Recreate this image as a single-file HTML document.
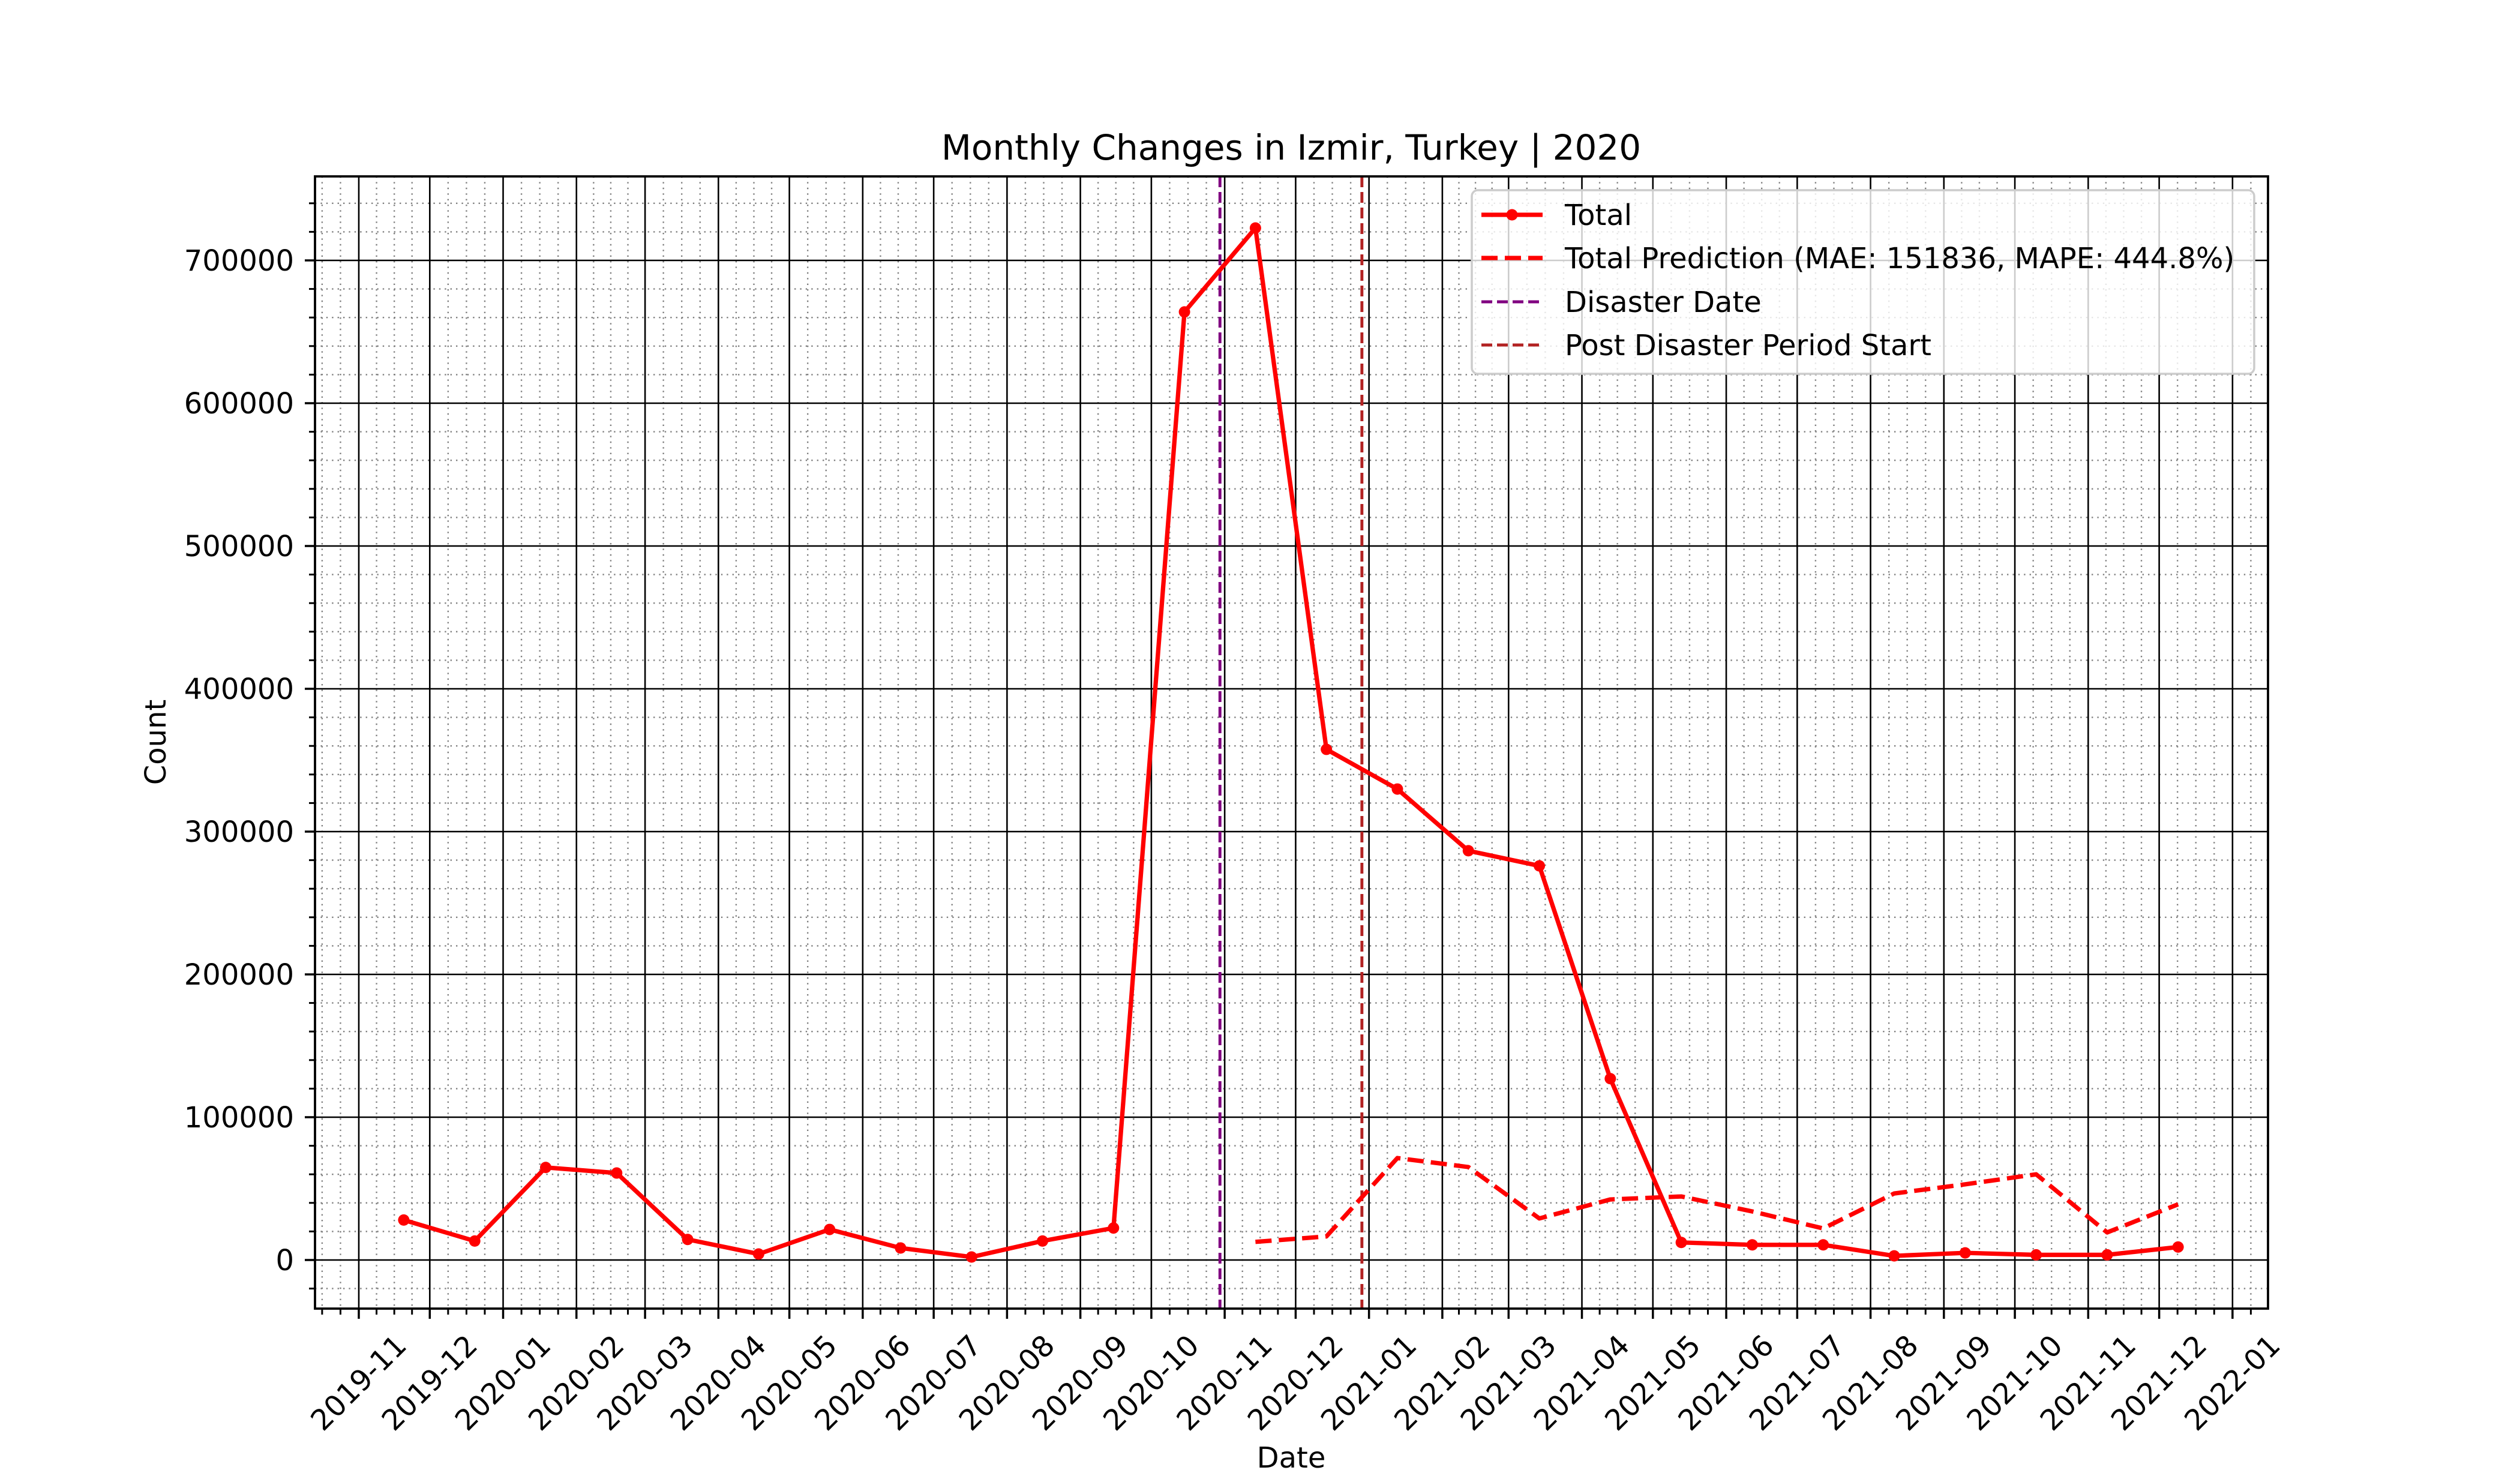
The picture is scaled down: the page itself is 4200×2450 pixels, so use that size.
<!DOCTYPE html>
<html><head><meta charset="utf-8">
<style>
html,body{margin:0;padding:0;background:#fff;}
svg{display:block;font-family:"DejaVu Sans","Liberation Sans",sans-serif;}
</style></head>
<body>
<svg id="chart" width="4200" height="2450" viewBox="0 0 4200 2450" xmlns="http://www.w3.org/2000/svg">
<rect x="0" y="0" width="4200" height="2450" fill="#fff"/>
<g id="grid-minor"></g>
<g id="grid-major"></g>
<g id="vlines"></g>
<g id="series"></g>
<g id="axes"></g>
<g id="legend"></g>
<text x="2152" y="266" font-size="58" text-anchor="middle">Monthly Changes in Izmir, Turkey | 2020</text>
<text x="2152" y="2446" font-size="48" text-anchor="middle">Date</text>
<text x="0" y="0" font-size="48" text-anchor="middle" transform="translate(276,1237) rotate(-90)">Count</text>
</svg>
<script>
const totalDates = ["2019-11-20","2019-12-20","2020-01-19","2020-02-18","2020-03-19","2020-04-18","2020-05-18","2020-06-17","2020-07-17","2020-08-16","2020-09-15","2020-10-15","2020-11-14","2020-12-14","2021-01-13","2021-02-12","2021-03-14","2021-04-13","2021-05-13","2021-06-12","2021-07-12","2021-08-11","2021-09-10","2021-10-10","2021-11-09","2021-12-09"];
const totalValues = [28000,13300,64800,60900,14400,4200,21400,8400,2100,13300,22400,663900,722700,357600,329800,286600,276000,127000,12300,10600,10600,2900,5000,3600,3600,9100];
const predDates = ["2020-11-14","2020-12-14","2021-01-13","2021-02-12","2021-03-14","2021-04-13","2021-05-13","2021-06-12","2021-07-12","2021-08-11","2021-09-10","2021-10-10","2021-11-09","2021-12-09"];
const predValues = [12700,16500,71400,65100,29100,42400,44500,34000,22100,46600,53000,60000,19300,39000];
const disasterDate = "2020-10-30";
const postStartDate = "2020-12-29";
const xTickLabels = ["2019-11","2019-12","2020-01","2020-02","2020-03","2020-04","2020-05","2020-06","2020-07","2020-08","2020-09","2020-10","2020-11","2020-12","2021-01","2021-02","2021-03","2021-04","2021-05","2021-06","2021-07","2021-08","2021-09","2021-10","2021-11","2021-12","2022-01"];
const yTickValues = [0,100000,200000,300000,400000,500000,600000,700000];
const legendLabels = ["Total","Total Prediction (MAE: 151836, MAPE: 444.8%)","Disaster Date","Post Disaster Period Start"];

const NS="http://www.w3.org/2000/svg";
const L=525,R=3780,T=294,B=2181;
const base=Date.UTC(2019,10,1);
function dayOf(s){const p=s.split("-").map(Number);return (Date.UTC(p[0],p[1]-1,p[2]||1)-base)/86400000;}
const PXD=3.943, X0=598;
function xs(s){return X0+dayOf(s)*PXD;}
function xd(d){return X0+d*PXD;}
const Y0=2100, PY=238/100000;
function ys(v){return Y0-v*PY;}
function mk(tag,attrs,parent){const e=document.createElementNS(NS,tag);for(const k in attrs)e.setAttribute(k,attrs[k]);parent.appendChild(e);return e;}

const gMin=document.getElementById("grid-minor"),gMaj=document.getElementById("grid-major"),gV=document.getElementById("vlines"),gS=document.getElementById("series"),gA=document.getElementById("axes"),gL=document.getElementById("legend");

// minor x positions: quarters of each month from 2019-10 to 2022-01
const minorX=[];
for(let y=2019,m=9;;){const s=Date.UTC(y,m,1),e=Date.UTC(y,m+1,1);const ds=(s-base)/86400000,de=(e-base)/86400000;
 for(let q=1;q<4;q++){const x=xd(ds+(de-ds)*q/4);if(x>L&&x<R)minorX.push(x);}
 m++;if(m>11){m=0;y++;} if(y>2022||(y===2022&&m>1))break;}
minorX.forEach(x=>{const l=mk("line",{x1:x,x2:x,y1:T,y2:B,stroke:"#808080","stroke-width":2.4,"stroke-dasharray":"2.4 7"},gMin);


const t=mk("line",{x1:x,x2:x,y1:B,y2:B+10,stroke:"#000","stroke-width":3},gA);

});
for(let v=-20000;v<=740000;v+=20000){if(v%100000===0)continue;const y=ys(v);if(y<T||y>B)continue;
const l=mk("line",{x1:L,x2:R,y1:y,y2:y,stroke:"#808080","stroke-width":2.4,"stroke-dasharray":"2.4 7"},gMin);


const t=mk("line",{x1:L-10,x2:L,y1:y,y2:y,stroke:"#000","stroke-width":3},gA);

}

xTickLabels.forEach(lb=>{const x=xs(lb);
const l=mk("line",{x1:x,x2:x,y1:T,y2:B,stroke:"#000","stroke-width":2.6},gMaj);


const t=mk("line",{x1:x,x2:x,y1:B,y2:B+17,stroke:"#000","stroke-width":3.5},gA);


const tx=mk("text",{x:x,y:2305,"font-size":48,"text-anchor":"middle","dominant-baseline":"central",transform:`rotate(-45 ${x} 2305)`},gA);
tx.textContent=lb;

});
yTickValues.forEach(v=>{const y=ys(v);
const l=mk("line",{x1:L,x2:R,y1:y,y2:y,stroke:"#000","stroke-width":2.6},gMaj);


const t=mk("line",{x1:L-17,x2:L,y1:y,y2:y,stroke:"#000","stroke-width":3.5},gA);


const tx=mk("text",{x:490,y:y+17,"font-size":48,"text-anchor":"end"},gA);
tx.textContent=String(v);

});
const sp=mk("rect",{x:L,y:T,width:R-L,height:B-T,fill:"none",stroke:"#000","stroke-width":3.8},gA);



// event lines
const dl=mk("line",{x1:xs(disasterDate),x2:xs(disasterDate),y1:T,y2:B,stroke:"#800080","stroke-width":4.9,"stroke-dasharray":"18 8"},gV);


const pl=mk("line",{x1:xs(postStartDate),x2:xs(postStartDate),y1:T,y2:B,stroke:"#b22222","stroke-width":4.9,"stroke-dasharray":"18 8"},gV);



// series
const pp=predDates.map((d,i)=>xs(d)+","+ys(predValues[i])).join(" ");
const pr=mk("polyline",{points:pp,fill:"none",stroke:"#ff0000","stroke-width":7.3,"stroke-dasharray":"27 12","stroke-linejoin":"round"},gS);


const tp=totalDates.map((d,i)=>xs(d)+","+ys(totalValues[i])).join(" ");
const tl=mk("polyline",{points:tp,fill:"none",stroke:"#ff0000","stroke-width":7.3,"stroke-linejoin":"round"},gS);


totalDates.forEach((d,i)=>{const c=mk("circle",{cx:xs(d),cy:ys(totalValues[i]),r:9.5,fill:"#ff0000"},gS);

});

// legend
const lb=mk("rect",{x:2453,y:317,width:1304,height:306,rx:10,fill:"#fff","fill-opacity":0.8,stroke:"#cccccc","stroke-width":3.5},gL);


const rows=[358,430,503,575];
const styles=[{c:"#ff0000",w:7.3,d:""},{c:"#ff0000",w:7.3,d:"27 12"},{c:"#800080",w:4.9,d:"18 8"},{c:"#b22222",w:4.9,d:"18 8"}];
legendLabels.forEach((t,i)=>{const y=rows[i],s=styles[i];
const ln=mk("line",{x1:2469,x2:2571,y1:y,y2:y,stroke:s.c,"stroke-width":s.w},gL);
if(s.d)ln.setAttribute("stroke-dasharray",s.d);


if(i===0){const c=mk("circle",{cx:2520,cy:y,r:9.5,fill:"#ff0000"},gL);

}
const tx=mk("text",{x:2608,y:y+17,"font-size":48},gL);
tx.textContent=t;

});
</script>
</body></html>
